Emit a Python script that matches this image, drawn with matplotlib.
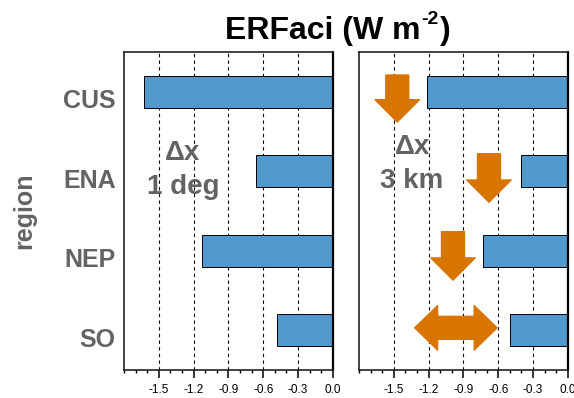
import numpy as np
import matplotlib
matplotlib.use("Agg")
import matplotlib.pyplot as plt
from matplotlib.patches import FancyArrowPatch
from matplotlib.transforms import ScaledTranslation

plt.rcParams['font.family'] = ['Liberation Sans', 'DejaVu Sans']

regions = ["CUS", "ENA", "NEP", "SO"]
erf_1deg = [-1.63, -0.66, -1.13, -0.48]
erf_3km = [-1.21, -0.40, -0.73, -0.50]
xticks = [-1.5, -1.2, -0.9, -0.6, -0.3, 0.0]

# arrows on the 3 km panel (x, y start, y end)
arrow_x = [-1.47, -0.68, -0.99]
arrow_y0 = [-0.21, 0.78, 1.76]
arrow_y1 = [0.38, 1.39, 2.37]
# double arrow for SO
dbl_x = [-1.32, -0.61]
dbl_y = 2.97

gray = '#636363'
blue = '#5199cd'
orange = '#d87400'

fig = plt.figure(figsize=(5.74, 3.98), dpi=100)
ax1 = fig.add_axes([0.216, 0.0704, 0.364, 0.799])
ax2 = fig.add_axes([0.6254, 0.0704, 0.364, 0.799])

ypos = np.arange(len(regions))
for ax, vals in [(ax1, erf_1deg), (ax2, erf_3km)]:
    for xt in xticks[:-1]:
        ax.axvline(xt, color='black', lw=0.8, ls=(0, (3, 3)), zorder=1)
    ax.barh(ypos, vals, height=0.4, color=blue, edgecolor='black', lw=0.7, zorder=2)
    ax.set_xlim(-1.8, 0.0)
    ax.set_ylim(3.5, -0.5)
    ax.set_xticks(xticks)
    ax.set_xticklabels(["%.1f" % v for v in xticks])
    ax.set_xticks(np.arange(-1.8, 0.01, 0.1), minor=True)
    ax.tick_params(axis='x', which='major', direction='out', length=6, width=1.1, labelsize=8.5, pad=4)
    ax.tick_params(axis='x', which='minor', direction='out', length=2.5, width=1.0)
    for s in ax.spines.values():
        s.set_linewidth(1.2)
        s.set_color('#222222')
    ax.spines['right'].set_linewidth(1.6)
    ax.spines['right'].set_color('black')

ax1.set_yticks(ypos)
ax1.set_yticklabels(regions, fontsize=18, fontweight='bold', color=gray)
ax1.tick_params(axis='y', length=0, pad=6)
shift = ScaledTranslation(0, -5 / 72, fig.dpi_scale_trans)
for lab in ax1.get_yticklabels():
    lab.set_transform(lab.get_transform() + shift)
ax2.set_yticks([])
ax1.set_ylabel('region', fontsize=18, fontweight='bold', color=gray, labelpad=19)

ax1.text(0.28, 0.660, 'Δx', transform=ax1.transAxes, ha='center', va='baseline',
         fontsize=20, fontweight='bold', color=gray)
ax1.text(0.285, 0.553, '1 deg', transform=ax1.transAxes, ha='center', va='baseline',
         fontsize=20, fontweight='bold', color=gray)
ax2.text(0.254, 0.679, 'Δx', transform=ax2.transAxes, ha='center', va='baseline',
         fontsize=20, fontweight='bold', color=gray)
ax2.text(0.254, 0.572, '3 km', transform=ax2.transAxes, ha='center', va='baseline',
         fontsize=20, fontweight='bold', color=gray)

style = 'simple,head_length=16,head_width=32,tail_width=16.5'
for x, y0, y1 in zip(arrow_x, arrow_y0, arrow_y1):
    ax2.add_patch(FancyArrowPatch((x, y0), (x, y1), arrowstyle=style, color=orange,
                                  shrinkA=0, shrinkB=0, zorder=3))
mid = (dbl_x[0] + dbl_x[1]) / 2
style2 = 'simple,head_length=16.5,head_width=32,tail_width=16.5'
for xe in dbl_x:
    ax2.add_patch(FancyArrowPatch((mid, dbl_y), (xe, dbl_y), arrowstyle=style2, color=orange,
                                  shrinkA=0, shrinkB=0, zorder=3))

# title built from pieces so the superscript stays small with a plain hyphen
r = fig.canvas.get_renderer()
W, H = 574.0, 398.0
x0, yb = 225 / W, 1 - 39 / H
t1 = fig.text(x0, yb, 'ERFaci (W m', ha='left', va='baseline',
              fontsize=23, fontweight='bold', color='black')
x1 = x0 + t1.get_window_extent(r).width / W + 1 / W
t2 = fig.text(x1, yb + 15 / H, '-2', ha='left', va='baseline',
              fontsize=14, fontweight='bold', color='black')
x2 = x1 + t2.get_window_extent(r).width / W + 1 / W
fig.text(x2, yb, ')', ha='left', va='baseline',
         fontsize=23, fontweight='bold', color='black')

fig.savefig('out.png', dpi=100)
